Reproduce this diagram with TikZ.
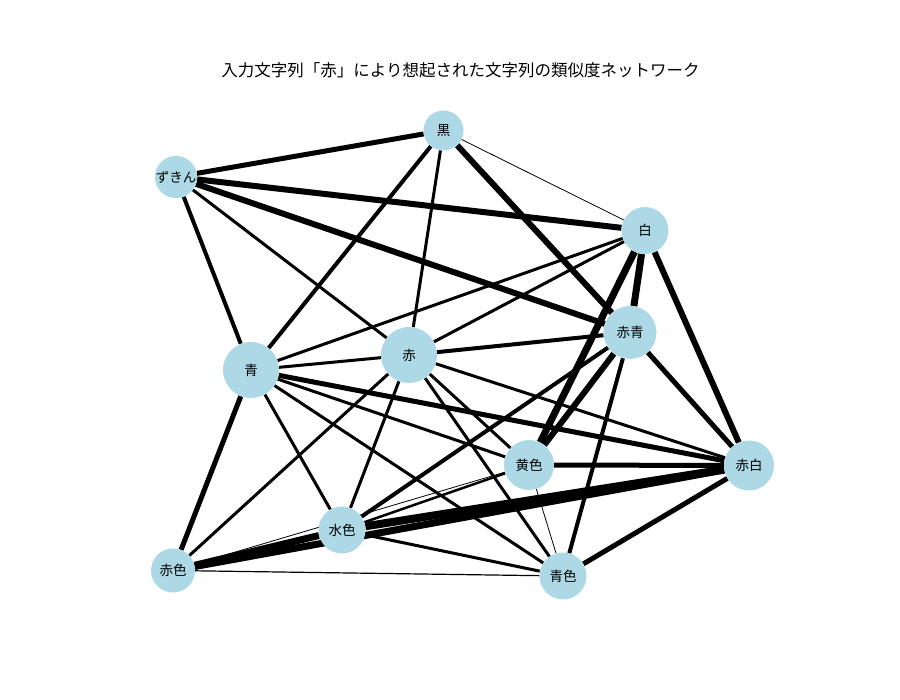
\documentclass[tikz,border=0pt]{standalone}
\usepackage{fontspec}
\setmainfont{Noto Sans CJK JP}
\definecolor{nodeblue}{HTML}{ADD8E6}
\pgfdeclarelayer{bg}
\pgfsetlayers{bg,main}
\begin{document}
\begin{tikzpicture}[x=1pt,y=-1pt,
  nd/.style={circle, fill=nodeblue, inner sep=0pt, font=\fontsize{13.5}{14}\selectfont},
  ed/.style={line width=#1, black}]
\useasboundingbox (0,0) rectangle (900,700);
\node[font=\fontsize{16.5}{18}\selectfont] (title) at (460.5,70) {入力文字列「赤」により想起された文字列の類似度ネットワーク};
\node[nd, minimum size=40pt] (kuro) at (443.5,130.5) {黒};
\node[nd, minimum size=40pt] (zukin) at (176,177) {ずきん};
\node[nd, minimum size=47pt] (shiro) at (645,230.5) {白};
\node[nd, minimum size=53pt] (akaao) at (630,332.5) {赤青};
\node[nd, minimum size=56pt] (aka) at (409,355) {赤};
\node[nd, minimum size=56pt] (ao) at (251,370) {青};
\node[nd, minimum size=50pt] (kiiro) at (529,465) {黄色};
\node[nd, minimum size=50pt] (akashiro) at (749,465.5) {赤白};
\node[nd, minimum size=47pt] (mizuiro) at (342,530) {水色};
\node[nd, minimum size=44pt] (akairo) at (173,570.5) {赤色};
\node[nd, minimum size=47pt] (aoiro) at (563,576) {青色};
\begin{pgfonlayer}{bg}
\draw[ed=5pt] (kuro) -- (zukin);
\draw[ed=4pt] (kuro) -- (ao);
\draw[ed=3pt] (kuro) -- (aka);
\draw[ed=6pt] (kuro) -- (akaao);
\draw[ed=0.8pt] (kuro) -- (shiro);
\draw[ed=6pt] (zukin) -- (shiro);
\draw[ed=6pt] (zukin) -- (akaao);
\draw[ed=3pt] (zukin) -- (aka);
\draw[ed=4pt] (zukin) -- (ao);
\draw[ed=3pt] (shiro) -- (ao);
\draw[ed=3pt] (shiro) -- (aka);
\draw[ed=7pt] (shiro) -- (akaao);
\draw[ed=7pt] (shiro) -- (kiiro);
\draw[ed=6pt] (shiro) -- (akashiro);
\draw[ed=4pt] (akaao) -- (aka);
\draw[ed=6pt] (akaao) -- (kiiro);
\draw[ed=4pt] (akaao) -- (mizuiro);
\draw[ed=4pt] (akaao) -- (aoiro);
\draw[ed=5pt] (akaao) -- (akashiro);
\draw[ed=3pt] (aka) -- (ao);
\draw[ed=3pt] (aka) -- (akashiro);
\draw[ed=3pt] (aka) -- (kiiro);
\draw[ed=3pt] (aka) -- (aoiro);
\draw[ed=3pt] (aka) -- (mizuiro);
\draw[ed=3pt] (aka) -- (akairo);
\draw[ed=5pt] (ao) -- (akashiro);
\draw[ed=3pt] (ao) -- (kiiro);
\draw[ed=3pt] (ao) -- (aoiro);
\draw[ed=3pt] (ao) -- (mizuiro);
\draw[ed=5pt] (ao) -- (akairo);
\draw[ed=5pt] (kiiro) -- (akashiro);
\draw[ed=2.5pt] (kiiro) -- (mizuiro);
\draw[ed=0.8pt] (kiiro) -- (akairo);
\draw[ed=0.8pt] (kiiro) -- (aoiro);
\draw[ed=8pt] (akashiro) -- (mizuiro);
\draw[ed=7pt] (akashiro) -- (akairo);
\draw[ed=5pt] (akashiro) -- (aoiro);
\draw[ed=3pt] (mizuiro) -- (aoiro);
\draw[ed=7pt] (mizuiro) -- (akairo);
\draw[ed=1.2pt] (akairo) -- (aoiro);
\end{pgfonlayer}
\end{tikzpicture}
\end{document}
